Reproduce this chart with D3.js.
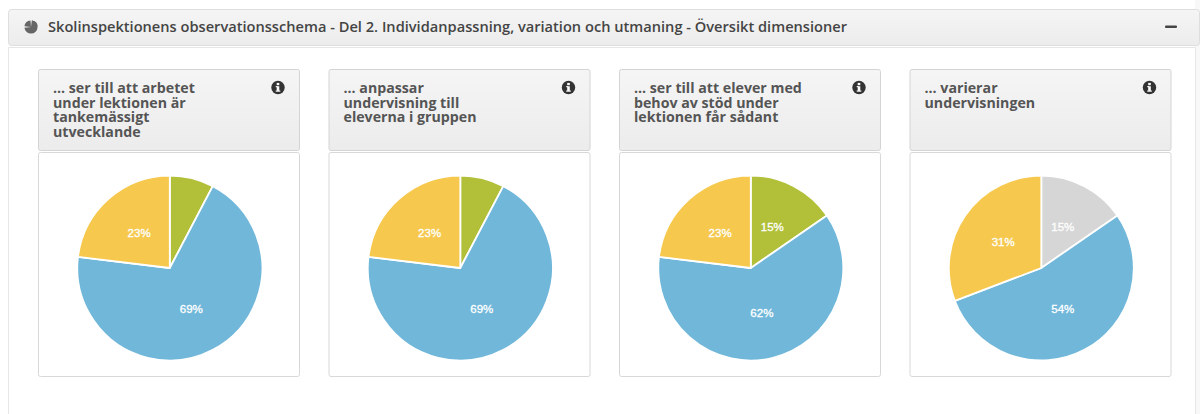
<!DOCTYPE html>
<html><head><meta charset="utf-8">
<script src="https://cdn.jsdelivr.net/npm/d3@7"></script>
<style>html,body{margin:0;padding:0;background:#fff;overflow:hidden}svg{display:block}</style>
</head><body><svg id="c" width="1200" height="414"></svg>
<script>
const panelTitle = "Skolinspektionens observationsschema - Del 2. Individanpassning, variation och utmaning - Översikt dimensioner";
const cardTitles = [
  ["... ser till att arbetet","under lektionen är","tankemässigt","utvecklande"],
  ["... anpassar","undervisning till","eleverna i gruppen"],
  ["... ser till att elever med","behov av stöd under","lektionen får sådant"],
  ["... varierar","undervisningen"]
];
const categories = ["top","mid","rest"];
const values1 = [1,9,3];
const values2 = [1,9,3];
const values3 = [2,8,3];
const values4 = [2,7,4];
const allValues = [values1,values2,values3,values4];
const topColors = ["#b1bf39","#b1bf39","#b1bf39","#d6d6d6"];
const midColor = "#70b7da", restColor = "#f6c94e";
const cardX = [38,328.5,619,909.5];
const minLabel = 10;

const svg = d3.select("#c");
const defs = svg.append("defs");
const g1 = defs.append("linearGradient").attr("id","hg").attr("x1",0).attr("x2",0).attr("y1",0).attr("y2",1);
g1.append("stop").attr("offset","0").attr("stop-color","#f5f5f5");
g1.append("stop").attr("offset","1").attr("stop-color","#ececec");

svg.append("rect").attr("x",1195).attr("y",0).attr("width",5).attr("height",414).attr("fill","#f8f8f8");
svg.append("path").attr("d","M8.5,414V47.5H1195.5V414").attr("fill","#fff").attr("stroke","#e6e6e6");
svg.append("rect").attr("x",8.5).attr("y",9.5).attr("width",1191).attr("height",36).attr("rx",3)
  .attr("fill","url(#hg)").attr("stroke","#dedede");
const ic = svg.append("g").attr("transform","translate(31,27)").attr("fill","#666");
ic.append("path").attr("d",d3.arc()({innerRadius:0,outerRadius:6.6,startAngle:0.12,endAngle:Math.PI*1.5-0.1}));
ic.append("path").attr("d",d3.arc()({innerRadius:0,outerRadius:6.6,startAngle:Math.PI*1.5+0.1,endAngle:Math.PI*2-0.08}));
ic.append("path").attr("transform","translate(1,-1)").attr("d",d3.arc()({innerRadius:0,outerRadius:5.5,startAngle:0,endAngle:Math.PI/2}));
svg.append("text").attr("x",48).attr("y",32).attr("font-family","Open Sans").attr("font-weight",600)
  .attr("font-size",14).attr("fill","#444").attr("textLength",799).attr("lengthAdjust","spacingAndGlyphs").text(panelTitle);
svg.append("rect").attr("x",1165).attr("y",25.5).attr("width",12).attr("height",2.5).attr("rx",1).attr("fill","#444");

const w = 262, r = 92.5;
const pie = d3.pie().sort(null).value(d=>d.v);
const arc = d3.arc().innerRadius(0).outerRadius(r);

cardX.forEach((x,i)=>{
  const g = svg.append("g").attr("transform",`translate(${x},0)`);
  g.append("rect").attr("x",.5).attr("y",69.5).attr("width",w-1).attr("height",81).attr("rx",2)
    .attr("fill","url(#hg)").attr("stroke","#d4d4d4");
  g.append("rect").attr("x",.5).attr("y",152.5).attr("width",w-1).attr("height",224).attr("rx",2)
    .attr("fill","#fff").attr("stroke","#d8d8d8");
  g.selectAll("text.t").data(cardTitles[i]).join("text").attr("class","t")
    .attr("x",15).attr("y",(d,k)=>93+k*14.5)
    .attr("font-family","Open Sans").attr("font-weight",700).attr("font-size",14.2).attr("fill","#555").text(d=>d);
  const info = g.append("g").attr("transform",`translate(240,87.5)`);
  info.append("circle").attr("r",6.7).attr("fill","#333");
  info.append("rect").attr("x",-1.3).attr("y",-4.6).attr("width",2.6).attr("height",2.3).attr("fill","#fff");
  info.append("rect").attr("x",-1.3).attr("y",-1.2).attr("width",2.6).attr("height",4.6).attr("fill","#fff");
  info.append("rect").attr("x",-2.3).attr("y",3).attr("width",4.6).attr("height",1.2).attr("fill","#fff");
  info.append("rect").attr("x",-2.3).attr("y",-1.4).attr("width",2).attr("height",1.1).attr("fill","#fff");

  const total = d3.sum(allValues[i]);
  const data = categories.map((c,k)=>({c,v:allValues[i][k],pct:Math.round(allValues[i][k]/total*100),col:[topColors[i],midColor,restColor][k]}));
  const p = g.append("g").attr("transform",`translate(131.8,268)`);
  const arcs = pie(data);
  p.selectAll("path").data(arcs).join("path").attr("d",arc).attr("fill",d=>d.data.col)
    .attr("stroke","#fff").attr("stroke-width",1.8).attr("stroke-linejoin","round");
  p.selectAll("text").data(arcs.filter(d=>d.data.pct>=minLabel)).join("text")
    .attr("transform",d=>`translate(${arc.centroid(d)})`)
    .attr("text-anchor","middle").attr("dy","0.35em")
    .attr("font-family","Liberation Sans").attr("font-size",11.5)
    .attr("fill","#fff").attr("stroke","#fff").attr("stroke-width",0.3).text(d=>d.data.pct+"%");
});
</script></body></html>
